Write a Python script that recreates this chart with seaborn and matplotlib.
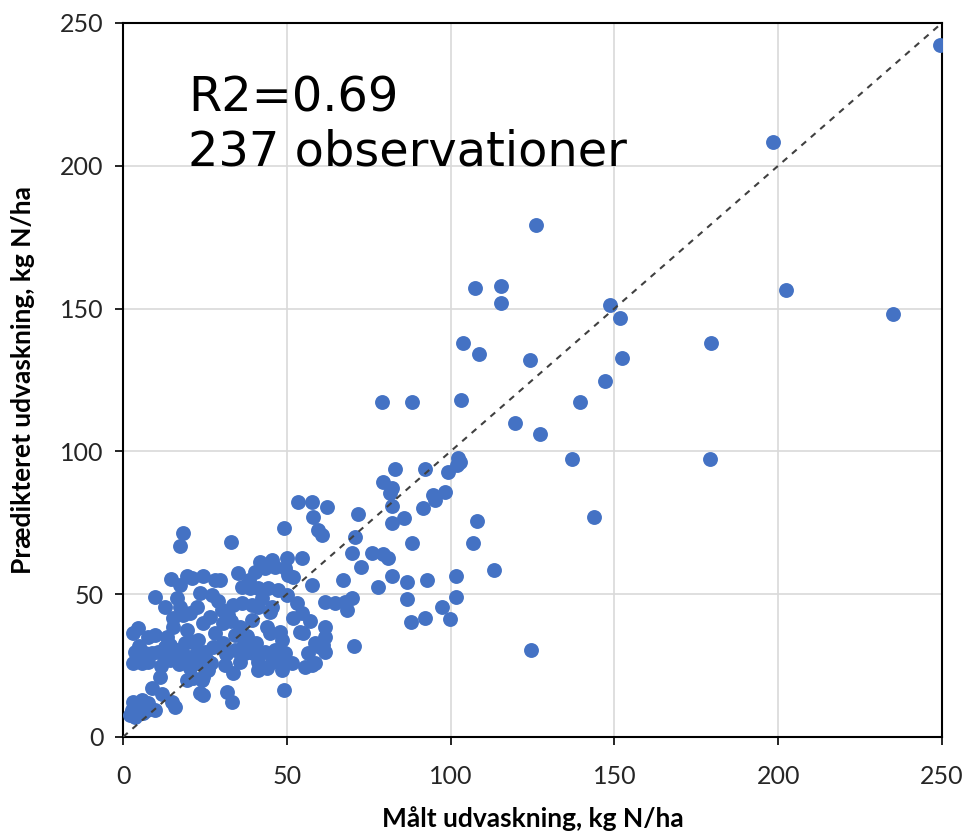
import numpy as np
import pandas as pd
import matplotlib
matplotlib.use("Agg")
import matplotlib.pyplot as plt
import seaborn as sns

# Målt (x) og prædikteret (y) udvaskning, kg N/ha
maalt = [
    249.4, 198.3, 126.1, 107.4, 115.5, 115.5, 148.8, 151.7, 202.4, 235.2,
    103.9, 108.6, 124.3, 152.4, 179.6, 147.0, 103.2, 139.5, 119.7, 127.2,
    137.2, 179.2, 143.8, 113.2, 124.7, 79.0, 88.1,
    102.4, 102.9, 101.9, 99.3, 83.0, 92.2, 79.5, 82.0, 81.5, 94.7,
    95.2, 98.3, 91.7, 82.2, 62.2, 71.8, 82.2, 85.9, 70.8, 69.8,
    72.6, 75.9, 79.5, 81.0, 88.1, 67.2, 77.7, 82.0, 86.6, 92.9,
    101.6, 86.6, 101.6, 97.3, 87.8, 92.2, 99.8, 61.7, 64.7, 67.8,
    69.8, 68.3, 61.7, 61.7, 61.1, 61.7, 58.6, 58.6, 70.6, 108.0, 106.7,
    53.3, 57.6, 58.1, 59.6, 60.7, 49.2, 33.0, 41.8, 45.4, 50.0,
    54.6, 40.3, 43.3, 46.4, 49.5, 50.5, 52.0, 57.6, 29.6, 36.2,
    38.8, 41.3, 44.4, 47.4, 50.0, 33.7, 36.2, 39.3, 41.3, 30.1,
    32.2, 44.9, 39.3, 35.7, 34.2, 30.6, 43.9, 44.9, 47.9, 48.4,
    52.0, 54.6, 54.0, 55.0, 60.1, 34.2, 37.2, 39.8, 43.3, 49.5,
    35.7, 41.3, 45.4, 47.9, 51.5, 31.1, 33.7, 41.3, 48.4, 55.6,
    57.6, 31.7, 33.2, 49.2,
    18.4, 17.4, 14.7, 19.4, 21.0, 17.4, 24.5, 28.1, 9.8, 12.8,
    17.4, 23.5, 27.1, 22.5, 15.4, 18.4, 20.5, 24.5, 15.4, 3.1,
    4.7, 7.7, 9.8, 28.1, 12.8, 14.3, 16.4, 18.9, 21.0, 23.0,
    3.7, 6.7, 8.8, 10.8, 3.1, 5.7, 7.7, 12.8, 14.3, 17.9,
    20.0, 22.5, 25.0, 25.5, 23.0, 26.0, 24.5, 19.4, 21.5, 24.0,
    11.3, 8.8, 23.5, 24.5, 14.9, 15.9, 3.1, 5.7, 7.7, 2.6,
    4.7, 7.2, 9.8, 2.1, 3.7,
    30.5, 27.5, 33.0, 38.0, 40.5, 36.5, 46.5, 42.5, 26.5, 29.0,
    19.5, 11.5, 5.0, 27.0, 16.5, 38.5, 53.0, 56.5, 44.0, 4.2,
    20.5, 13.5, 31.5, 35.0, 45.5, 12.0, 57.0, 6.0, 17.0,
]
praedikteret = [
    242.3, 208.4, 179.2, 157.2, 158.0, 152.0, 151.3, 146.6, 156.6, 148.0,
    137.9, 134.0, 132.1, 132.7, 137.9, 124.6, 118.0, 117.3, 110.0, 106.1,
    97.3, 97.3, 77.0, 58.5, 30.5, 117.4, 117.4,
    97.6, 96.4, 95.2, 92.9, 93.7, 93.7, 89.4, 87.1, 85.3, 84.7,
    83.0, 85.9, 80.0, 80.9, 80.6, 78.2, 75.0, 76.6, 70.1, 64.5,
    59.6, 64.5, 64.1, 62.6, 67.8, 55.0, 52.4, 56.4, 54.4, 55.0,
    56.4, 48.3, 49.1, 45.6, 40.4, 41.8, 41.2, 47.4, 46.8, 47.4,
    48.6, 44.5, 38.6, 35.1, 32.2, 29.9, 32.8, 25.8, 31.9, 75.7, 67.8,
    82.4, 82.4, 77.1, 72.5, 70.7, 73.1, 68.4, 61.4, 62.0, 62.6,
    62.6, 57.9, 59.0, 59.4, 59.0, 56.7, 56.1, 53.2, 55.0, 52.6,
    52.0, 52.0, 52.0, 51.5, 49.7, 46.2, 46.8, 46.2, 45.6, 44.5,
    42.7, 43.9, 41.0, 38.6, 35.7, 39.8, 38.6, 36.3, 36.9, 34.0,
    41.6, 43.3, 36.9, 36.3, 31.6, 30.5, 29.3, 29.3, 29.9, 29.3,
    26.4, 26.4, 26.4, 26.4, 25.8, 25.2, 22.3, 23.5, 23.5, 24.6,
    25.2, 15.9, 12.4, 16.5,
    71.3, 67.0, 55.2, 56.4, 55.6, 53.2, 56.4, 55.0, 49.1, 45.4,
    45.4, 50.3, 49.7, 45.6, 41.6, 42.7, 43.3, 39.8, 38.6, 36.3,
    38.1, 35.1, 35.7, 36.3, 31.6, 32.2, 30.5, 32.8, 33.4, 34.0,
    29.9, 29.3, 29.3, 29.9, 25.8, 25.8, 26.4, 28.1, 27.0, 29.3,
    28.1, 29.3, 29.9, 27.0, 25.8, 23.5, 21.1, 20.0, 20.6, 20.0,
    21.1, 17.0, 15.3, 14.7, 12.4, 10.6, 12.4, 13.0, 11.8, 9.5,
    10.0, 9.5, 9.5, 7.7, 7.1,
    33.0, 31.5, 40.5, 35.5, 33.0, 32.0, 30.5, 48.5, 42.0, 47.5,
    37.5, 25.0, 32.0, 26.0, 48.5, 55.0, 47.0, 29.5, 24.0, 27.5,
    24.0, 35.0, 29.0, 57.5, 45.5, 15.0, 40.5, 8.5, 25.5,
]
akse_ticks = [0, 50, 100, 150, 200, 250]
tekst = "R2=0.69\n237 observationer"

df = pd.DataFrame({"maalt": maalt, "praedikteret": praedikteret})

sns.set_style("white")
plt.rcParams["font.family"] = ["Lato", "DejaVu Sans"]

fig = plt.figure(figsize=(9.67, 8.35), dpi=100)
ax = fig.add_axes([0.1272, 0.1174, 0.8469, 0.8551])

ax.grid(True, color="#d9d9d9", linewidth=1.2, zorder=0)
ax.set_axisbelow(True)

sns.scatterplot(data=df, x="maalt", y="praedikteret", ax=ax,
                color="#4472c4", s=115, linewidth=0, alpha=1, zorder=3)

# 1:1 linje
ax.plot([0, 250], [0, 250], color="#404040", linestyle=(0, (3, 3)),
        linewidth=1.5, zorder=4)

ax.set_xlim(0, 250)
ax.set_ylim(0, 250)
ax.set_xticks(akse_ticks)
ax.set_yticks(akse_ticks)
ax.tick_params(axis="both", direction="out", length=6, width=1.2,
               color="black", labelsize=18, labelcolor="#262626",
               bottom=True, left=True, pad=8)
ax.tick_params(axis="x", pad=14)
for sp in ax.spines.values():
    sp.set_color("black")
    sp.set_linewidth(1.5)
    sp.set_visible(True)

ax.set_xlabel("Målt udvaskning, kg N/ha", fontsize=19, fontweight="bold",
              color="black")
ax.set_ylabel("Prædikteret udvaskning, kg N/ha", fontsize=19,
              fontweight="bold", color="black")
ax.xaxis.set_label_coords(0.5, -0.097)
ax.yaxis.set_label_coords(-0.107, 0.5)

ax.text(19.8, 232, tekst, fontsize=34.5, va="top", ha="left",
        color="black", family=["DejaVu Sans"], linespacing=1.2, zorder=5)

fig.savefig("out.png", dpi=100, facecolor="white")
